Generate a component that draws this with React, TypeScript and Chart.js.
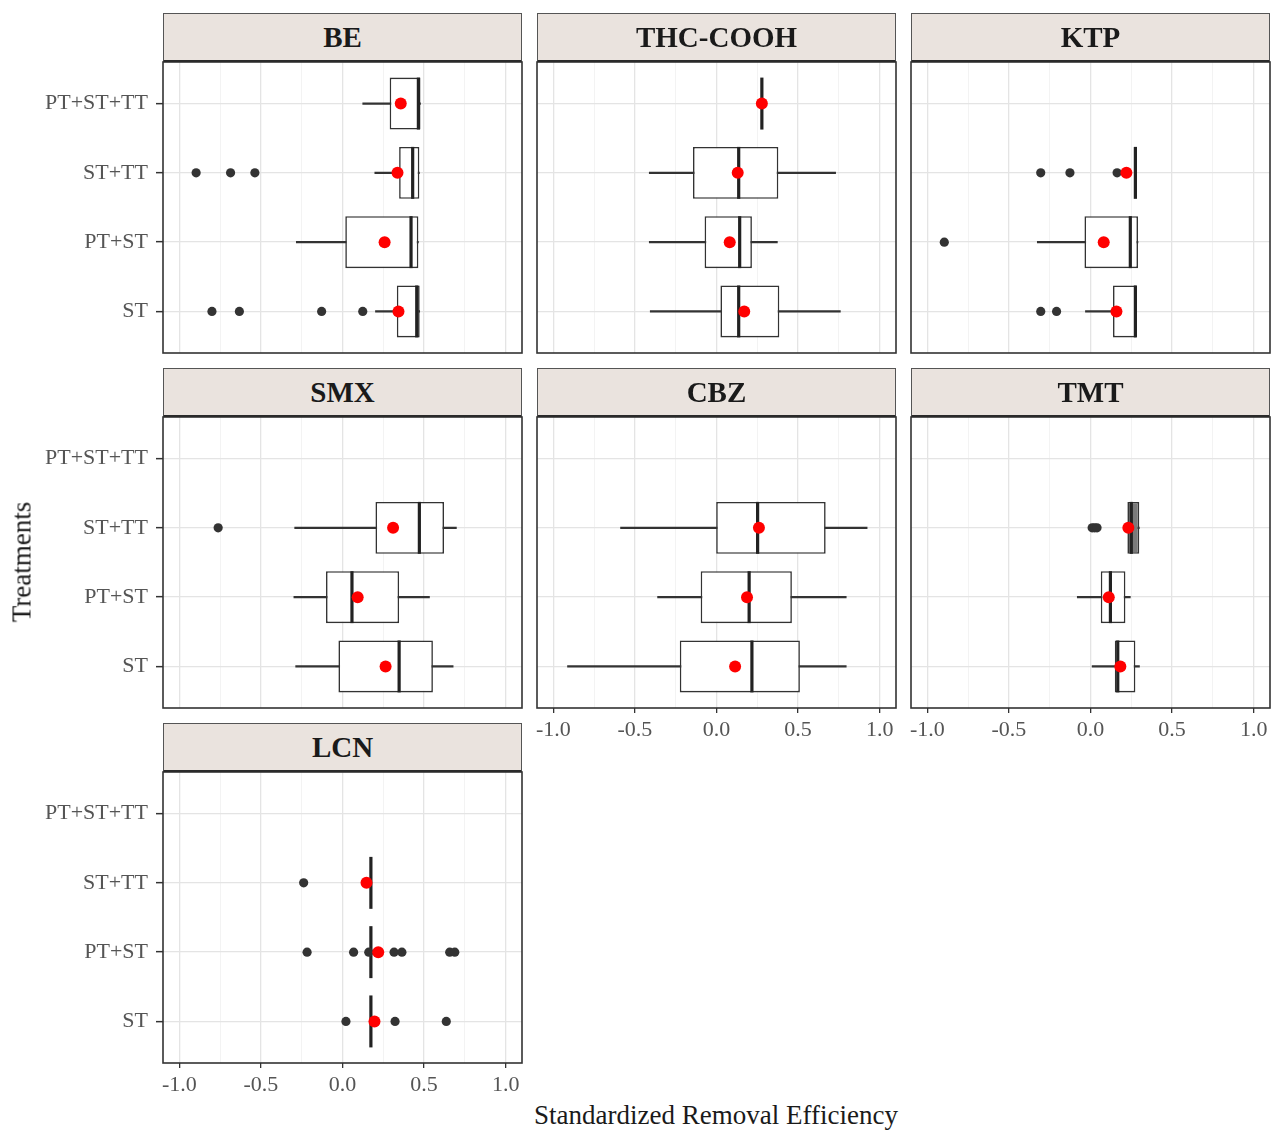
import React, { useEffect, useRef } from "react";
import { Chart, registerables } from "chart.js";

Chart.register(...registerables);

// ---------- data ----------
// category order on the y axis, bottom to top
const categories = ["ST", "PT+ST", "ST+TT", "PT+ST+TT"];
const xMajorValues = [-1, -0.5, 0, 0.5, 1];
const xTickLabels = ["-1.0", "-0.5", "0.0", "0.5", "1.0"];

// each row: [min, q1, median, q3, max, mean]  (null = no data for that treatment)
type Stat = [number, number, number, number, number, number] | null;

const BE_stats: Stat[] = [
  [0.202, 0.333, 0.455, 0.473, 0.473, 0.343],
  [-0.283, 0.017, 0.42, 0.465, 0.465, 0.258],
  [0.198, 0.347, 0.43, 0.471, 0.471, 0.337],
  [0.124, 0.289, 0.465, 0.478, 0.478, 0.357],
];
const BE_outliers: number[][] = [[-0.8, -0.632, -0.128, 0.124], [], [-0.897, -0.686, -0.537], []];

const THC_stats: Stat[] = [
  [-0.406, 0.024, 0.136, 0.385, 0.759, 0.17],
  [-0.412, -0.073, 0.142, 0.217, 0.373, 0.081],
  [-0.412, -0.144, 0.136, 0.379, 0.73, 0.13],
  [0.278, 0.278, 0.278, 0.278, 0.278, 0.278],
];
const THC_outliers: number[][] = [[], [], [], []];

const KTP_stats: Stat[] = [
  [-0.031, 0.138, 0.275, 0.281, 0.281, 0.159],
  [-0.326, -0.037, 0.244, 0.291, 0.291, 0.081],
  [0.275, 0.275, 0.275, 0.275, 0.275, 0.22],
  null,
];
const KTP_outliers: number[][] = [[-0.305, -0.208], [-0.896], [-0.305, -0.126, 0.163], []];

const SMX_stats: Stat[] = [
  [-0.287, -0.025, 0.347, 0.554, 0.678, 0.264],
  [-0.298, -0.101, 0.058, 0.347, 0.533, 0.093],
  [-0.293, 0.202, 0.471, 0.622, 0.698, 0.31],
  null,
];
const SMX_outliers: number[][] = [[], [], [-0.762], []];

const CBZ_stats: Stat[] = [
  [-0.913, -0.225, 0.217, 0.511, 0.795, 0.114],
  [-0.361, -0.097, 0.2, 0.462, 0.795, 0.187],
  [-0.588, -0.002, 0.252, 0.669, 0.923, 0.26],
  null,
];
const CBZ_outliers: number[][] = [[], [], [], []];

const TMT_stats: Stat[] = [
  [0.01, 0.149, 0.167, 0.275, 0.3, 0.183],
  [-0.081, 0.063, 0.122, 0.214, 0.244, 0.112],
  [0.226, 0.226, 0.25, 0.299, 0.299, 0.232],
  null,
];
const TMT_outliers: number[][] = [[], [], [0.01, 0.025, 0.04], []];

const LCN_stats: Stat[] = [
  [0.174, 0.174, 0.174, 0.174, 0.174, 0.196],
  [0.174, 0.174, 0.174, 0.174, 0.174, 0.219],
  [0.174, 0.174, 0.174, 0.174, 0.174, 0.147],
  null,
];
const LCN_outliers: number[][] = [
  [0.021, 0.322, 0.636],
  [-0.217, 0.068, 0.161, 0.316, 0.364, 0.657, 0.688],
  [-0.238],
  [],
];

// ---------- layout / style ----------
const FONT = "'Liberation Serif', 'Times New Roman', serif";
const PANEL_W = 359;
const PANEL_H = 291;
const STRIP_H = 49;
const PAD = 4;
const Y_AXIS_SPACE = 163;
const X_AXIS_H = 40;
const colLeft = [163, 537, 911];
const rowTop = [62, 417, 772];

interface PanelDef {
  name: string;
  stats: Stat[];
  outliers: number[][];
  row: number;
  col: number;
  showX: boolean;
  shaded?: string;
}

const panels: PanelDef[] = [
  { name: "BE", stats: BE_stats, outliers: BE_outliers, row: 0, col: 0, showX: false },
  { name: "THC-COOH", stats: THC_stats, outliers: THC_outliers, row: 0, col: 1, showX: false },
  { name: "KTP", stats: KTP_stats, outliers: KTP_outliers, row: 0, col: 2, showX: false },
  { name: "SMX", stats: SMX_stats, outliers: SMX_outliers, row: 1, col: 0, showX: false },
  { name: "CBZ", stats: CBZ_stats, outliers: CBZ_outliers, row: 1, col: 1, showX: true },
  { name: "TMT", stats: TMT_stats, outliers: TMT_outliers, row: 1, col: 2, showX: true, shaded: "ST+TT" },
  { name: "LCN", stats: LCN_stats, outliers: LCN_outliers, row: 2, col: 0, showX: true },
];

const isMajor = (v: number) => Math.abs(v * 2 - Math.round(v * 2)) < 1e-6;

const borderPlugin = {
  id: "panelBorder",
  afterDraw(chart: any) {
    const { ctx, chartArea: a } = chart;
    ctx.save();
    ctx.strokeStyle = "#333333";
    ctx.lineWidth = 1.6;
    ctx.strokeRect(a.left, a.top, a.right - a.left, a.bottom - a.top);
    ctx.restore();
  },
};

function Panel({ def }: { def: PanelDef }) {
  const ref = useRef<HTMLCanvasElement>(null);
  const showY = def.col === 0;
  const showX = def.showX;
  const leftSpace = showY ? Y_AXIS_SPACE : PAD;
  const width = leftSpace + PANEL_W + PAD;
  const height = PAD + PANEL_H + (showX ? X_AXIS_H : 0) + PAD;
  const left = colLeft[def.col] - leftSpace;
  const top = rowTop[def.row] - PAD;

  useEffect(() => {
    const boxes: any[] = [];
    const whiskers: any[] = [];
    const medians: any[] = [];
    const means: any[] = [];
    const outs: any[] = [];
    def.stats.forEach((s, i) => {
      if (!s) return;
      const [mn, q1, md, q3, mx, mean] = s;
      const y = i + 1;
      whiskers.push({ x: [mn, mx], y });
      boxes.push({ x: [q1, q3], y, shade: def.shaded === categories[i] });
      medians.push({ x: md, y });
      means.push({ x: mean, y });
    });
    def.outliers.forEach((arr, i) => arr.forEach((v) => outs.push({ x: v, y: i + 1 })));

    const halfBox = (ctx: any) => {
      const ys = ctx.chart.scales.y;
      return Math.abs(ys.getPixelForValue(1) - ys.getPixelForValue(0)) * 0.375;
    };

    const chart = new Chart(ref.current as HTMLCanvasElement, {
      type: "bar",
      data: {
        datasets: [
          {
            type: "bar",
            data: whiskers,
            grouped: false,
            barThickness: 1.6,
            backgroundColor: "#333333",
            borderWidth: 0,
            order: 4,
          } as any,
          {
            type: "bar",
            data: boxes,
            grouped: false,
            categoryPercentage: 1,
            barPercentage: 0.75,
            borderSkipped: false,
            borderWidth: 1.6,
            borderColor: "#333333",
            backgroundColor: (c: any) => (c.raw && c.raw.shade ? "#7a7a7a" : "#ffffff"),
            order: 3,
          } as any,
          {
            type: "scatter",
            data: medians,
            pointStyle: "line",
            pointRotation: 90,
            pointRadius: halfBox,
            pointBorderWidth: 3.2,
            pointBorderColor: "#222222",
            order: 2,
          } as any,
          {
            type: "scatter",
            data: outs,
            pointRadius: 4.6,
            pointBackgroundColor: "#333333",
            pointBorderWidth: 0,
            order: 1,
          } as any,
          {
            type: "scatter",
            data: means,
            pointRadius: 6,
            pointBackgroundColor: "#ff0000",
            pointBorderWidth: 0,
            order: 0,
          } as any,
        ],
      },
      options: {
        indexAxis: "y",
        responsive: false,
        animation: false,
        events: [],
        layout: { autoPadding: false, padding: { left: PAD, right: PAD, top: PAD, bottom: PAD } },
        plugins: { legend: { display: false }, tooltip: { enabled: false }, title: { display: false } },
        scales: {
          x: {
            type: "linear",
            position: "bottom",
            min: -1.1,
            max: 1.1,
            beginAtZero: false,
            offset: false,
            border: { display: false },
            grid: {
              offset: false,
              color: (c: any) => (isMajor(c.tick.value) ? "#e4e4e4" : "#f0f0f0"),
              lineWidth: (c: any) => (isMajor(c.tick.value) ? 1.3 : 0.8),
              drawTicks: showX,
              tickLength: 5,
              tickColor: (c: any) => (isMajor(c.tick.value) ? "#333333" : "rgba(0,0,0,0)"),
              tickWidth: 1.3,
            },
            ticks: {
              display: showX,
              stepSize: 0.25,
              includeBounds: false,
              autoSkip: false,
              maxRotation: 0,
              padding: 4,
              color: "#555555",
              font: { family: FONT, size: 22 },
              callback: (v: any) => {
                const i = xMajorValues.findIndex((m) => Math.abs(m - Number(v)) < 1e-6);
                return i >= 0 ? xTickLabels[i] : "";
              },
            },
            afterFit: (s: any) => {
              s.height = showX ? X_AXIS_H : 0;
              s.paddingLeft = 0;
              s.paddingRight = 0;
              s.paddingTop = 0;
              s.paddingBottom = 0;
            },
          },
          y: {
            type: "linear",
            position: "left",
            min: 0.4,
            max: 4.6,
            beginAtZero: false,
            offset: false,
            border: { display: false },
            grid: {
              offset: false,
              color: "#e4e4e4",
              lineWidth: 1.3,
              drawTicks: showY,
              tickLength: 7,
              tickColor: "#333333",
              tickWidth: 1.5,
            },
            ticks: {
              display: showY,
              stepSize: 1,
              includeBounds: false,
              autoSkip: false,
              padding: 8,
              color: "#555555",
              font: { family: FONT, size: 22 },
              callback: (v: any) => categories[Math.round(Number(v)) - 1] ?? "",
            },
            afterFit: (s: any) => {
              s.width = showY ? Y_AXIS_SPACE - PAD : 0;
              s.paddingLeft = 0;
              s.paddingRight = 0;
              s.paddingTop = 0;
              s.paddingBottom = 0;
            },
          },
        },
      } as any,
      plugins: [borderPlugin],
    });
    return () => chart.destroy();
  }, []);

  return (
    <canvas
      ref={ref}
      width={width}
      height={height}
      style={{ position: "absolute", left, top, width, height }}
    />
  );
}

function Strip({ def }: { def: PanelDef }) {
  return (
    <div
      style={{
        position: "absolute",
        left: colLeft[def.col],
        top: rowTop[def.row] - STRIP_H,
        width: PANEL_W,
        height: STRIP_H,
        boxSizing: "border-box",
        background: "#eae3de",
        borderTop: "1.5px solid #555555",
        borderLeft: "1.5px solid #555555",
        borderRight: "1.5px solid #555555",
        borderBottom: "2.5px solid #2a2a2a",
        display: "flex",
        alignItems: "center",
        justifyContent: "center",
        fontFamily: FONT,
        fontWeight: "bold",
        fontSize: 29,
        color: "#1a1a1a",
      }}
    >
      {def.name}
    </div>
  );
}

export default function App() {
  return (
    <div
      style={{
        position: "absolute",
        left: 0,
        top: 0,
        width: 1274,
        height: 1131,
        background: "#ffffff",
        overflow: "hidden",
      }}
    >
      {panels.map((p) => (
        <Panel key={p.name} def={p} />
      ))}
      {panels.map((p) => (
        <Strip key={"s" + p.name} def={p} />
      ))}
      <div
        style={{
          position: "absolute",
          left: 22,
          top: 562,
          transform: "translate(-50%, -50%) rotate(-90deg)",
          whiteSpace: "nowrap",
          fontFamily: FONT,
          fontSize: 27,
          color: "#1a1a1a",
        }}
      >
        Treatments
      </div>
      <div
        style={{
          position: "absolute",
          left: 716,
          top: 1115,
          transform: "translate(-50%, -50%)",
          whiteSpace: "nowrap",
          fontFamily: FONT,
          fontSize: 27,
          color: "#1a1a1a",
        }}
      >
        Standardized Removal Efficiency
      </div>
    </div>
  );
}
